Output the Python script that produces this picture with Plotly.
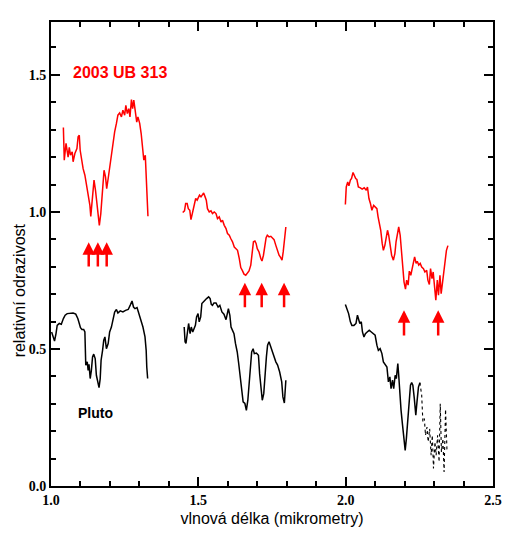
import plotly.graph_objects as go

# 2003 UB 313 (red), three spectral windows
red1_x = [1.042, 1.045, 1.051, 1.058, 1.062, 1.066, 1.072, 1.075, 1.081, 1.088, 1.092, 1.096,
          1.099, 1.104, 1.109, 1.115, 1.121, 1.126, 1.132, 1.135, 1.140, 1.146, 1.151, 1.155,
          1.160, 1.164, 1.169, 1.173, 1.180, 1.185, 1.189, 1.194, 1.199, 1.205, 1.210, 1.216,
          1.222, 1.227, 1.233, 1.239, 1.244, 1.250, 1.254, 1.259, 1.264, 1.268, 1.273, 1.277,
          1.281, 1.286, 1.291, 1.295, 1.301, 1.306, 1.311, 1.315, 1.320, 1.323, 1.327, 1.329]
red1_y = [1.308, 1.189, 1.250, 1.200, 1.236, 1.207, 1.219, 1.183, 1.213, 1.231, 1.274, 1.280,
          1.225, 1.183, 1.158, 1.134, 1.097, 1.061, 1.024, 0.984, 1.043, 1.116, 1.079, 1.031,
          0.976, 0.951, 0.994, 1.067, 1.152, 1.128, 1.085, 1.122, 1.164, 1.201, 1.262, 1.292,
          1.323, 1.353, 1.361, 1.347, 1.371, 1.353, 1.389, 1.359, 1.377, 1.347, 1.410, 1.377,
          1.408, 1.365, 1.328, 1.347, 1.323, 1.286, 1.243, 1.189, 1.207, 1.128, 1.031, 0.984]

red2_x = [1.447, 1.453, 1.457, 1.462, 1.466, 1.471, 1.475, 1.481, 1.486, 1.491, 1.496, 1.500,
          1.504, 1.509, 1.514, 1.518, 1.523, 1.527, 1.531, 1.537, 1.543, 1.548, 1.554, 1.560,
          1.565, 1.571, 1.577, 1.582, 1.588, 1.594, 1.599, 1.605, 1.610, 1.616, 1.622, 1.627,
          1.633, 1.639, 1.644, 1.650, 1.655, 1.661, 1.667, 1.672, 1.678, 1.682, 1.687, 1.692,
          1.696, 1.700, 1.706, 1.712, 1.716, 1.721, 1.725, 1.730, 1.734, 1.740, 1.746, 1.751,
          1.757, 1.763, 1.768, 1.774, 1.779, 1.784, 1.788, 1.793, 1.797]
red2_y = [0.998, 1.004, 1.031, 1.031, 1.012, 1.006, 0.972, 1.000, 1.024, 1.049, 1.043, 1.055,
          1.061, 1.055, 1.065, 1.069, 1.055, 1.043, 1.012, 1.000, 1.004, 0.994, 1.000, 0.994,
          0.976, 0.982, 0.963, 0.970, 0.951, 0.939, 0.921, 0.915, 0.903, 0.891, 0.872, 0.866,
          0.860, 0.830, 0.797, 0.785, 0.773, 0.769, 0.777, 0.785, 0.806, 0.848, 0.891, 0.894,
          0.885, 0.866, 0.854, 0.830, 0.821, 0.842, 0.878, 0.906, 0.915, 0.909, 0.911, 0.906,
          0.899, 0.878, 0.860, 0.842, 0.834, 0.824, 0.854, 0.915, 0.945]

red3_x = [1.999, 2.002, 2.007, 2.011, 2.016, 2.020, 2.025, 2.029, 2.034, 2.038, 2.043, 2.050,
          2.056, 2.063, 2.070, 2.074, 2.079, 2.084, 2.089, 2.095, 2.100, 2.106, 2.110, 2.115,
          2.119, 2.124, 2.128, 2.133, 2.137, 2.142, 2.146, 2.151, 2.156, 2.162, 2.167, 2.171,
          2.176, 2.180, 2.185, 2.189, 2.194, 2.198, 2.203, 2.207, 2.212, 2.216, 2.221, 2.225,
          2.230, 2.234, 2.239, 2.243, 2.248, 2.253, 2.258, 2.264, 2.269, 2.275, 2.279, 2.284,
          2.288, 2.293, 2.297, 2.302, 2.306, 2.311, 2.315, 2.320, 2.324, 2.329, 2.333, 2.338,
          2.342, 2.347]
red3_y = [1.027, 1.091, 1.109, 1.095, 1.116, 1.122, 1.144, 1.134, 1.122, 1.119, 1.091, 1.088,
          1.083, 1.088, 1.079, 1.091, 1.049, 1.031, 1.006, 1.024, 1.018, 1.012, 0.982, 0.958,
          0.933, 0.885, 0.860, 0.878, 0.903, 0.933, 0.915, 0.866, 0.842, 0.824, 0.848, 0.891,
          0.927, 0.945, 0.915, 0.854, 0.806, 0.745, 0.718, 0.751, 0.733, 0.784, 0.769, 0.787,
          0.818, 0.836, 0.812, 0.820, 0.806, 0.812, 0.799, 0.793, 0.781, 0.787, 0.751, 0.735,
          0.793, 0.757, 0.781, 0.720, 0.678, 0.751, 0.696, 0.769, 0.702, 0.745, 0.775, 0.830,
          0.860, 0.877]

# Pluto (black)
blk1_x = [1.002, 1.008, 1.012, 1.017, 1.021, 1.028, 1.035, 1.042, 1.048, 1.055, 1.064, 1.075,
          1.084, 1.091, 1.096, 1.100, 1.105, 1.111, 1.115, 1.116, 1.118, 1.123, 1.126, 1.129,
          1.133, 1.137, 1.141, 1.145, 1.150, 1.154, 1.159, 1.163, 1.167, 1.170, 1.175, 1.179,
          1.183, 1.188, 1.194, 1.199, 1.205, 1.210, 1.216, 1.222, 1.227, 1.235, 1.244, 1.253,
          1.262, 1.269, 1.275, 1.280, 1.285, 1.292, 1.298, 1.305, 1.312, 1.319, 1.323, 1.325,
          1.328]
blk1_y = [0.562, 0.544, 0.529, 0.556, 0.586, 0.593, 0.590, 0.611, 0.623, 0.629, 0.631, 0.631,
          0.627, 0.611, 0.593, 0.578, 0.571, 0.571, 0.562, 0.495, 0.441, 0.453, 0.422, 0.444,
          0.392, 0.422, 0.471, 0.481, 0.465, 0.404, 0.374, 0.359, 0.392, 0.459, 0.495, 0.532,
          0.544, 0.501, 0.520, 0.562, 0.580, 0.611, 0.635, 0.644, 0.631, 0.639, 0.635, 0.641,
          0.644, 0.660, 0.675, 0.653, 0.647, 0.651, 0.631, 0.605, 0.580, 0.544, 0.495, 0.434,
          0.392]

blk2_x = [1.452, 1.455, 1.458, 1.463, 1.467, 1.472, 1.476, 1.481, 1.485, 1.490, 1.494, 1.499,
          1.503, 1.508, 1.512, 1.517, 1.521, 1.528, 1.535, 1.540, 1.544, 1.548, 1.553, 1.560,
          1.567, 1.573, 1.580, 1.587, 1.594, 1.598, 1.602, 1.607, 1.611, 1.616, 1.621, 1.626,
          1.632, 1.637, 1.643, 1.648, 1.652, 1.658, 1.663, 1.668, 1.672, 1.677, 1.681, 1.686,
          1.690, 1.697, 1.704, 1.708, 1.713, 1.717, 1.722, 1.726, 1.731, 1.735, 1.740, 1.744,
          1.750, 1.756, 1.763, 1.769, 1.776, 1.783, 1.787, 1.792, 1.795, 1.797]
blk2_y = [0.580, 0.526, 0.520, 0.568, 0.593, 0.556, 0.580, 0.562, 0.574, 0.586, 0.617, 0.629,
          0.599, 0.617, 0.666, 0.672, 0.678, 0.684, 0.690, 0.684, 0.663, 0.659, 0.668, 0.668,
          0.653, 0.659, 0.635, 0.627, 0.607, 0.631, 0.647, 0.623, 0.580, 0.568, 0.556, 0.520,
          0.489, 0.447, 0.398, 0.343, 0.307, 0.301, 0.276, 0.313, 0.361, 0.422, 0.489, 0.501,
          0.483, 0.485, 0.477, 0.410, 0.349, 0.313, 0.337, 0.410, 0.471, 0.514, 0.526, 0.514,
          0.495, 0.471, 0.453, 0.441, 0.416, 0.380, 0.325, 0.303, 0.349, 0.386]

blk3_x = [1.999, 2.004, 2.010, 2.016, 2.021, 2.028, 2.035, 2.040, 2.044, 2.048, 2.053, 2.057,
          2.062, 2.067, 2.073, 2.080, 2.087, 2.094, 2.100, 2.106, 2.111, 2.117, 2.123, 2.128,
          2.134, 2.140, 2.145, 2.150, 2.154, 2.159, 2.163, 2.168, 2.172, 2.177, 2.180, 2.184,
          2.188, 2.193, 2.197, 2.202, 2.206, 2.210, 2.215, 2.220, 2.224, 2.228, 2.233, 2.238,
          2.242, 2.247, 2.252]
blk3_y = [0.662, 0.647, 0.629, 0.599, 0.586, 0.586, 0.593, 0.623, 0.611, 0.593, 0.599, 0.562,
          0.544, 0.556, 0.562, 0.568, 0.562, 0.556, 0.550, 0.514, 0.495, 0.501, 0.483, 0.453,
          0.441, 0.434, 0.380, 0.398, 0.355, 0.386, 0.355, 0.404, 0.392, 0.447, 0.404, 0.331,
          0.276, 0.222, 0.185, 0.130, 0.173, 0.234, 0.307, 0.368, 0.377, 0.368, 0.319, 0.258,
          0.307, 0.361, 0.377]

blk3_tail_x = [2.252, 2.258, 2.262, 2.267, 2.271, 2.276, 2.280, 2.285, 2.290, 2.294, 2.298,
               2.303, 2.307, 2.312, 2.317, 2.321, 2.325, 2.330, 2.334, 2.339, 2.344]
blk3_tail_y = [0.377, 0.331, 0.234, 0.246, 0.185, 0.215, 0.161, 0.209, 0.112, 0.185, 0.064,
               0.161, 0.112, 0.185, 0.088, 0.300, 0.124, 0.173, 0.051, 0.280, 0.124]

# absorption band arrows: wavelength, tip and tail reflectance
arrow_x = [1.128, 1.159, 1.189, 1.658, 1.715, 1.791, 2.198, 2.314]
arrow_tip = [0.889, 0.889, 0.889, 0.742, 0.742, 0.742, 0.641, 0.641]
arrow_tail = [0.795, 0.795, 0.795, 0.647, 0.647, 0.647, 0.544, 0.544]

fig = go.Figure()

for xs, ys in [(red1_x, red1_y), (red2_x, red2_y), (red3_x, red3_y)]:
    fig.add_trace(go.Scatter(x=xs, y=ys, mode="lines",
                             line=dict(color="#ff0000", width=1.5)))

for xs, ys in [(blk1_x, blk1_y), (blk2_x, blk2_y), (blk3_x, blk3_y)]:
    fig.add_trace(go.Scatter(x=xs, y=ys, mode="lines",
                             line=dict(color="black", width=1.5)))

fig.add_trace(go.Scatter(x=blk3_tail_x, y=blk3_tail_y, mode="lines",
                         line=dict(color="black", width=1.1, dash="dot")))

for xa, tip, tail in zip(arrow_x, arrow_tip, arrow_tail):
    fig.add_annotation(x=xa, y=tip, ax=xa, ay=tail, axref="x", ayref="y",
                       text="", showarrow=True, arrowhead=2, arrowsize=1.0,
                       arrowwidth=2.5, arrowcolor="#ff0000")

fig.add_annotation(x=1.233, y=1.51, text="<b>2003 UB 313</b>", showarrow=False,
                   font=dict(family="Liberation Sans, Arial", size=16, color="#ff0000"))
fig.add_annotation(x=1.152, y=0.265, text="<b>Pluto</b>", showarrow=False,
                   font=dict(family="Liberation Sans, Arial", size=14, color="black"))
fig.add_annotation(x=-0.072, y=0.422, xref="paper", yref="paper",
                   text="relativní odrazivost", textangle=-90, showarrow=False,
                   xanchor="center", yanchor="middle",
                   font=dict(family="Liberation Sans, Arial", size=16, color="black"))

axis_common = dict(
    showline=True, linecolor="black", linewidth=2, mirror="ticks",
    ticks="inside", ticklen=9, tickwidth=2, tickcolor="black",
    showgrid=False, zeroline=False, tickformat=".1f",
    tickfont=dict(family="Liberation Serif, Times New Roman", size=14,
                  color="black", weight="bold"),
)

fig.update_xaxes(range=[1.0, 2.5], dtick=0.5, tick0=1.0,
                 minor=dict(dtick=0.1, ticks="inside", ticklen=5, tickwidth=2,
                            tickcolor="black"),
                 title=dict(text="vlnová délka (mikrometry)", standoff=6,
                            font=dict(family="Liberation Sans, Arial", size=16,
                                      color="black")),
                 **axis_common)
fig.update_yaxes(range=[0, 1.693], dtick=0.5, tick0=0,
                 minor=dict(dtick=0.1, ticks="inside", ticklen=5, tickwidth=2,
                            tickcolor="black"),
                 **axis_common)

# the page body adds an 8 px offset, so the figure is shrunk by that much
fig.update_layout(
    width=506, height=533,
    margin=dict(l=43, r=19, t=14, b=55),
    plot_bgcolor="white", paper_bgcolor="white",
    showlegend=False,
)

fig.write_html("out.html")
